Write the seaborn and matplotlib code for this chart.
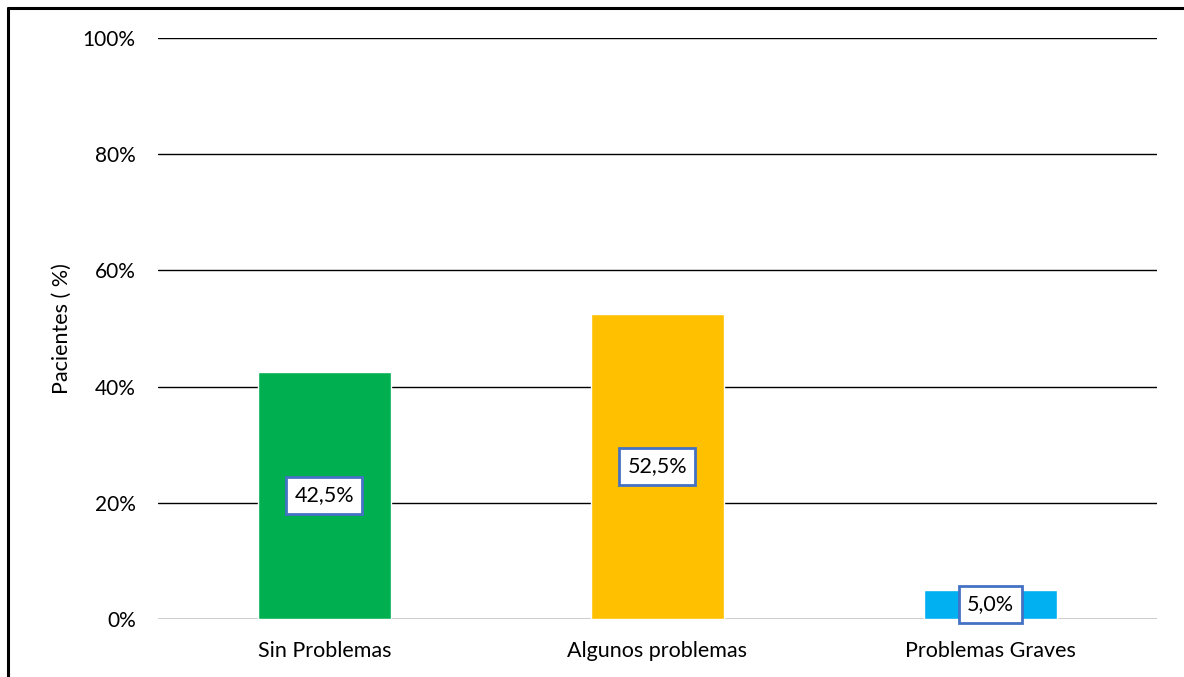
import matplotlib
matplotlib.use("Agg")
import matplotlib.pyplot as plt
from matplotlib.lines import Line2D
from matplotlib.ticker import FuncFormatter
import seaborn as sns
import pandas as pd

categorias = ["Sin Problemas", "Algunos problemas", "Problemas Graves"]
porcentajes = [42.5, 52.5, 5.0]
colores = ["#00B050", "#FFC000", "#00B0F0"]
ticks_y = [0, 20, 40, 60, 80, 100]

sns.set_theme(style="white")
plt.rcParams["font.family"] = ["Lato", "DejaVu Sans"]

df = pd.DataFrame({"categoria": categorias, "pct": porcentajes})

fig = plt.figure(figsize=(11.84, 6.77), dpi=100)
ax = fig.add_axes([0.1334, 0.0857, 0.8438, 0.8582])

sns.barplot(data=df, x="categoria", y="pct", hue="categoria",
            palette=colores, width=0.40, legend=False, ax=ax,
            saturation=1, zorder=3)

ax.set_ylim(0, 100)
ax.set_xlim(-0.5, 2.5)
ax.set_yticks(ticks_y)
ax.yaxis.set_major_formatter(FuncFormatter(lambda v, _: f"{v:.0f}%"))
ax.grid(axis="y", color="#000000", linewidth=1.0, zorder=0)
ax.grid(axis="x", visible=False)
ax.set_axisbelow(True)
for s in ax.spines.values():
    s.set_visible(False)
ax.tick_params(axis="x", length=0, labelsize=15.5, colors="#000000", pad=16)
ax.tick_params(axis="y", length=0, labelsize=15, colors="#000000", pad=16)
ax.set_xlabel("")
ax.set_ylabel("Pacientes ( %)", fontsize=15.5, color="#000000")
ax.yaxis.set_label_coords(-0.086, 0.5)

for cont in ax.containers:
    etiquetas = [f"{v:.1f}%".replace(".", ",") for v in cont.datavalues]
    ax.bar_label(cont, labels=etiquetas, label_type="center", fontsize=15.5,
                 color="#000000", zorder=5,
                 bbox=dict(boxstyle="square,pad=0.38", facecolor="white",
                           edgecolor="#4472C4", linewidth=2))

# Frame along the left and top edges of the figure
fig.add_artist(Line2D([8 / 1184, 8 / 1184], [0, 1 - 8 / 677],
                      transform=fig.transFigure, color="black", linewidth=2.2))
fig.add_artist(Line2D([8 / 1184, 1], [1 - 8 / 677, 1 - 8 / 677],
                      transform=fig.transFigure, color="black", linewidth=2.2))

fig.savefig("out.png", dpi=100)
